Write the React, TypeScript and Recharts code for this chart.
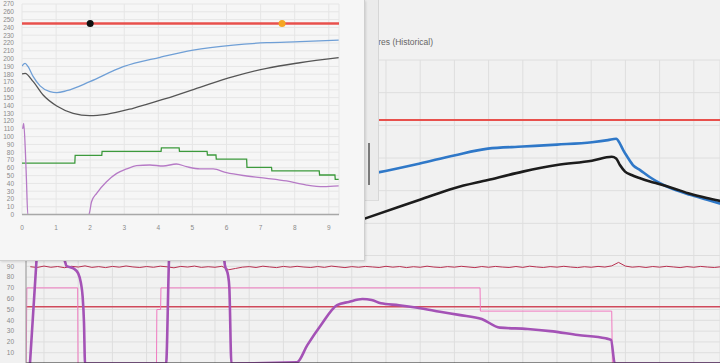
import {
  CartesianGrid,
  ComposedChart,
  Line,
  LineChart,
  ReferenceDot,
  ReferenceLine,
  XAxis,
  YAxis,
} from 'recharts';

type Pt = { t: number; v: number };

// ---- popup chart (zoomed run, minutes) ----
const POP_X_TICKS = [0, 1, 2, 3, 4, 5, 6, 7, 8, 9];
const POP_Y_TICKS = [
  0, 10, 20, 30, 40, 50, 60, 70, 80, 90, 100, 110, 120, 130, 140, 150, 160, 170,
  180, 190, 200, 210, 220, 230, 240, 250, 260, 270,
];
const popLimit: Pt[] = [
  { t: 0, v: 245 },
  { t: 9.3, v: 245 },
];
const popMarkers = [
  { t: 2.0, v: 245, color: '#111111' },
  { t: 7.63, v: 245, color: '#f5a623' },
];
const popBlue: Pt[] = [
  { t: 0, v: 190.5 }, { t: 0.09, v: 194 }, { t: 0.18, v: 189.6 }, { t: 0.33, v: 176.8 },
  { t: 0.53, v: 165 }, { t: 0.82, v: 157.6 }, { t: 1.02, v: 156.3 }, { t: 1.31, v: 158.8 },
  { t: 1.99, v: 170.4 }, { t: 2.97, v: 189.6 }, { t: 4.05, v: 201.7 }, { t: 5.02, v: 211 },
  { t: 6.2, v: 217.4 }, { t: 7.18, v: 220.4 }, { t: 8.15, v: 221.7 }, { t: 9.29, v: 223.8 },
];
const popBlack: Pt[] = [
  { t: 0, v: 180.3 }, { t: 0.09, v: 181 }, { t: 0.33, v: 170.4 }, { t: 0.62, v: 153.3 },
  { t: 1.02, v: 139.2 }, { t: 1.5, v: 129.9 }, { t: 1.99, v: 126.8 }, { t: 2.48, v: 128.6 },
  { t: 3.26, v: 136.3 }, { t: 4.24, v: 149.1 }, { t: 5.22, v: 163.2 }, { t: 6.2, v: 176.8 },
  { t: 7.18, v: 187.6 }, { t: 8.15, v: 194.7 }, { t: 9.29, v: 201.2 },
];
const popGreen: Pt[] = [
  { t: 0, v: 66 }, { t: 1.55, v: 66 }, { t: 1.56, v: 76 }, { t: 2.34, v: 76 },
  { t: 2.35, v: 81 }, { t: 4.08, v: 81 }, { t: 4.09, v: 85.5 }, { t: 4.61, v: 85.5 },
  { t: 4.62, v: 81 }, { t: 5.43, v: 81 }, { t: 5.44, v: 76.4 }, { t: 5.69, v: 76.4 },
  { t: 5.7, v: 71 }, { t: 6.59, v: 71 }, { t: 6.6, v: 60.6 }, { t: 7.32, v: 60.6 },
  { t: 7.33, v: 56 }, { t: 8.72, v: 56 }, { t: 8.73, v: 50.8 }, { t: 9.18, v: 50.8 },
  { t: 9.19, v: 45.2 }, { t: 9.29, v: 45.2 },
];
const popPurple: Pt[] = [
  { t: 0.02, v: 110 }, { t: 0.05, v: 117 }, { t: 0.1, v: 80 }, { t: 0.13, v: 45 },
  { t: 0.17, v: 0 }, { t: 1.96, v: 0 }, { t: 2.04, v: 16.5 }, { t: 2.19, v: 27.3 },
  { t: 2.48, v: 42.2 }, { t: 2.78, v: 52.9 }, { t: 3.07, v: 58.5 }, { t: 3.36, v: 62.7 },
  { t: 3.75, v: 63.6 }, { t: 4.14, v: 62.3 }, { t: 4.53, v: 64.9 }, { t: 4.83, v: 61.4 },
  { t: 5.22, v: 58.5 }, { t: 5.61, v: 58.5 }, { t: 6.0, v: 53.7 }, { t: 6.59, v: 49.5 },
  { t: 7.18, v: 46.5 }, { t: 7.76, v: 43.1 }, { t: 8.35, v: 37.9 }, { t: 8.84, v: 35.8 },
  { t: 9.29, v: 36.7 },
];

// ---- background: temperatures (historical) ----
const MAIN_X_TICKS = [0, 1, 2, 3, 4, 5, 6, 7, 8, 9, 10, 11, 12, 13, 14, 15, 16, 17, 18, 19];
const TEMP_Y_TICKS = [
  120, 130, 140, 150, 160, 170, 180, 190, 200, 210, 220, 230, 240, 250, 260, 270, 280, 290, 300,
];
const tempLimit: Pt[] = [
  { t: -0.6, v: 245 },
  { t: 19.9, v: 245 },
];
const tempBlue: Pt[] = [
  { t: 8.0, v: 186 }, { t: 9.0, v: 192.5 }, { t: 9.77, v: 196.8 }, { t: 10.99, v: 205 },
  { t: 11.99, v: 212.3 }, { t: 12.98, v: 218.6 }, { t: 14.0, v: 220.5 }, { t: 15.0, v: 222.3 },
  { t: 16.02, v: 224.5 }, { t: 16.49, v: 226.4 }, { t: 16.73, v: 227.7 }, { t: 16.84, v: 223.2 },
  { t: 16.94, v: 217.1 }, { t: 17.05, v: 211.4 }, { t: 17.22, v: 203.5 }, { t: 17.43, v: 198.9 },
  { t: 17.72, v: 192.3 }, { t: 18.01, v: 186.8 }, { t: 18.39, v: 181.4 }, { t: 18.89, v: 176.2 },
  { t: 19.39, v: 171.6 }, { t: 19.77, v: 168 },
];
const tempBlack: Pt[] = [
  { t: 8.0, v: 139 }, { t: 9.44, v: 155 }, { t: 10.99, v: 171.6 }, { t: 11.99, v: 182.3 },
  { t: 12.98, v: 189.8 }, { t: 14.0, v: 197.5 }, { t: 15.0, v: 203.5 }, { t: 16.02, v: 207.5 },
  { t: 16.6, v: 211.1 }, { t: 16.73, v: 209.5 }, { t: 16.84, v: 203.5 }, { t: 16.99, v: 197.5 },
  { t: 17.18, v: 194.4 }, { t: 17.43, v: 191.4 }, { t: 17.72, v: 188.4 }, { t: 18.01, v: 185.9 },
  { t: 18.39, v: 182.3 }, { t: 18.89, v: 177.1 }, { t: 19.38, v: 173.2 }, { t: 19.77, v: 170.6 },
];

// ---- background: lower percent chart ----
const PCT_Y_TICKS = [10, 20, 30, 40, 50, 60, 70, 80, 90, 100];
const NOISE_START = -0.4;
const NOISE_STEP = 0.2;
const noiseValues = [
  89.6, 88.9, 90.2, 89.1, 89.8, 88.7, 90.0, 89.3, 90.4, 89.0,
  89.7, 88.8, 89.9, 89.2, 90.3, 89.4, 88.9, 89.8, 89.1, 90.1,
  89.5, 88.6, 89.9, 89.3, 90.2, 89.0, 89.6, 89.1, 90.0, 86.8,
  88.0, 89.2, 89.7, 88.9, 90.1, 89.4, 88.8, 89.9, 89.2, 90.0,
  89.3, 88.9, 89.8, 89.0, 90.2, 89.5, 88.8, 89.7, 89.1, 89.9,
  89.4, 88.9, 90.0, 89.2, 89.8, 88.8, 89.6, 89.1, 90.1, 89.3,
  88.9, 89.7, 89.2, 90.0, 89.4, 88.8, 89.8, 89.1, 89.9, 89.3,
  88.9, 89.8, 89.0, 90.1, 89.4, 88.9, 89.7, 89.2, 90.0, 89.3,
  88.8, 89.6, 89.1, 89.9, 89.3, 90.4, 93.6, 90.2, 89.2, 89.7,
  88.9, 89.8, 89.2, 90.0, 89.4, 88.8, 89.7, 89.1, 89.9, 89.3,
  88.9, 89.6,
];
const pctNoise: Pt[] = noiseValues.map((v, i) => ({ t: NOISE_START + i * NOISE_STEP, v }));
const pctSetpoint: Pt[] = [
  { t: -0.6, v: 52.5 },
  { t: 19.9, v: 52.5 },
];
const pctPink: Pt[] = [
  { t: -0.52, v: 0 }, { t: -0.5, v: 70 }, { t: 0.985, v: 70 }, { t: 0.995, v: 0 },
  { t: 3.29, v: 0 }, { t: 3.3, v: 50 }, { t: 3.41, v: 50 }, { t: 3.42, v: 70 },
  { t: 12.75, v: 70 }, { t: 12.76, v: 48.5 }, { t: 16.6, v: 48.5 }, { t: 16.62, v: 0 },
  { t: 19.9, v: 0 },
];
const pctPurple: Pt[] = [
  { t: -0.41, v: 0 }, { t: -0.23, v: 90 }, { t: -0.18, v: 112 }, { t: 0.0, v: 125 },
  { t: 0.45, v: 112 }, { t: 0.6, v: 96 }, { t: 0.66, v: 90.3 }, { t: 0.86, v: 88.1 },
  { t: 1.0, v: 83.5 }, { t: 1.08, v: 74.5 }, { t: 1.13, v: 61.9 }, { t: 1.17, v: 37.5 },
  { t: 1.2, v: 0 }, { t: 3.57, v: 0 }, { t: 3.66, v: 100 }, { t: 3.7, v: 115 },
  { t: 5.2, v: 115 }, { t: 5.29, v: 91 }, { t: 5.38, v: 82 }, { t: 5.42, v: 70 },
  { t: 5.48, v: 0 }, { t: 7.39, v: 1 }, { t: 7.7, v: 17 }, { t: 8.1, v: 35.6 },
  { t: 8.57, v: 54 }, { t: 8.91, v: 57 }, { t: 9.31, v: 59.7 }, { t: 9.58, v: 58.8 },
  { t: 9.85, v: 55.7 }, { t: 10.38, v: 54 }, { t: 10.92, v: 51.7 }, { t: 11.58, v: 48 },
  { t: 12.13, v: 45 }, { t: 12.8, v: 41.2 }, { t: 13.33, v: 33.2 }, { t: 14.14, v: 32 },
  { t: 14.8, v: 30 }, { t: 15.61, v: 26.4 }, { t: 16.42, v: 23.3 }, { t: 16.58, v: 21.8 },
  { t: 16.69, v: 0 }, { t: 19.9, v: 0 },
];

const FONT = '"Liberation Sans", Arial, sans-serif';
const GRID = '#dedede';
const TICK = { fill: '#8a8a8a', fontSize: 6.5, fontFamily: FONT };
const MAIN_DOMAIN: [number, number] = [-0.526, 19.766];

export default function App() {
  return (
    <div
      style={{
        position: 'absolute',
        left: 0,
        top: 0,
        width: 720,
        height: 363,
        overflow: 'hidden',
        background: '#f1f1f1',
        fontFamily: FONT,
      }}
    >
      {/* title of the chart behind the popup */}
      <div
        style={{
          position: 'absolute',
          right: 287,
          top: 37,
          fontSize: 8.5,
          color: '#666',
          whiteSpace: 'nowrap',
        }}
      >
        Temperatures (Historical)
      </div>

      {/* temperatures chart */}
      <div style={{ position: 'absolute', left: 0, top: 0 }}>
        <LineChart width={720} height={256} margin={{ top: 60, right: 0, bottom: 0, left: 26 }}>
          <CartesianGrid stroke={GRID} strokeWidth={1} />
          <XAxis dataKey="t" type="number" domain={MAIN_DOMAIN} ticks={MAIN_X_TICKS} hide allowDataOverflow />
          <YAxis type="number" domain={[120, 300]} ticks={TEMP_Y_TICKS} hide allowDataOverflow />
          <Line data={tempLimit} dataKey="v" stroke="#e8504c" strokeWidth={2} dot={false} isAnimationActive={false} />
          <Line data={tempBlue} dataKey="v" type="monotone" stroke="#2f78c8" strokeWidth={2.6} dot={false} isAnimationActive={false} />
          <Line data={tempBlack} dataKey="v" type="monotone" stroke="#1c1c1c" strokeWidth={2.6} dot={false} isAnimationActive={false} />
        </LineChart>
      </div>

      {/* lower percent chart */}
      <div style={{ position: 'absolute', left: 0, top: 250 }}>
        <LineChart width={720} height={114} margin={{ top: 5.5, right: 0, bottom: 0.5, left: 0 }}>
          <CartesianGrid stroke={GRID} strokeWidth={1} />
          <XAxis dataKey="t" type="number" domain={MAIN_DOMAIN} ticks={MAIN_X_TICKS} hide allowDataOverflow />
          <YAxis
            type="number"
            domain={[0, 100]}
            ticks={PCT_Y_TICKS}
            interval={0}
            width={26}
            allowDataOverflow
            tickLine={false}
            tickMargin={6}
            axisLine={{ stroke: '#9a9a9a' }}
            tick={TICK}
          />
          <Line data={pctSetpoint} dataKey="v" stroke="#d04a5c" strokeWidth={1.5} dot={false} isAnimationActive={false} />
          <Line data={pctPink} dataKey="v" stroke="#f07ac0" strokeWidth={1} dot={false} isAnimationActive={false} />
          <Line data={pctNoise} dataKey="v" stroke="#b83050" strokeWidth={1} dot={false} isAnimationActive={false} />
          <Line data={pctPurple} dataKey="v" type="monotone" stroke="#a452b6" strokeWidth={2.6} dot={false} isAnimationActive={false} />
          <ReferenceLine y={0} stroke="#222" strokeWidth={2} />
        </LineChart>
      </div>

      {/* scroll panel */}
      <div
        style={{
          position: 'absolute',
          left: 364,
          top: 0,
          width: 14,
          height: 200,
          background: '#ebebeb',
          borderRight: '1px solid #d6d6d6',
          borderBottom: '1px solid #dcdcdc',
        }}
      />
      <div style={{ position: 'absolute', left: 368, top: 143, width: 2, height: 42, background: '#7a7a7a' }} />

      {/* popup chart */}
      <div
        style={{
          position: 'absolute',
          left: 0,
          top: 0,
          width: 364,
          height: 260,
          background: '#f6f6f6',
          borderRight: '1px solid #cfcfcf',
          borderBottom: '1px solid #cfcfcf',
          boxShadow: '1px 1px 2px rgba(0,0,0,0.12)',
        }}
      >
        <ComposedChart width={364} height={240} margin={{ top: 4, right: 25, bottom: 5.4, left: 0 }}>
          <CartesianGrid stroke="#e6e6e6" strokeWidth={1} />
          <XAxis
            dataKey="t"
            type="number"
            domain={[0, 9.3]}
            ticks={POP_X_TICKS}
            interval={0}
            height={20}
            tickLine={false}
            tickMargin={5}
            axisLine={{ stroke: '#a8a8a8', strokeWidth: 1.5 }}
            tick={TICK}
            allowDataOverflow
          />
          <YAxis
            type="number"
            domain={[0, 270]}
            ticks={POP_Y_TICKS}
            width={22}
            interval={0}
            tickLine={false}
            axisLine={false}
            tick={TICK}
            allowDataOverflow
          />
          <Line data={popLimit} dataKey="v" stroke="#e8504c" strokeWidth={2.5} dot={false} isAnimationActive={false} />
          <Line data={popBlue} dataKey="v" type="monotone" stroke="#6f9fd6" strokeWidth={1.3} dot={false} isAnimationActive={false} />
          <Line data={popBlack} dataKey="v" type="monotone" stroke="#555555" strokeWidth={1.3} dot={false} isAnimationActive={false} />
          <Line data={popGreen} dataKey="v" stroke="#3d9a3d" strokeWidth={1.3} dot={false} isAnimationActive={false} />
          <Line data={popPurple} dataKey="v" type="monotone" stroke="#b67ac6" strokeWidth={1.3} dot={false} isAnimationActive={false} />
          {popMarkers.map((m) => (
            <ReferenceDot key={m.t} x={m.t} y={m.v} r={3.5} fill={m.color} stroke="none" />
          ))}
        </ComposedChart>
      </div>
    </div>
  );
}
